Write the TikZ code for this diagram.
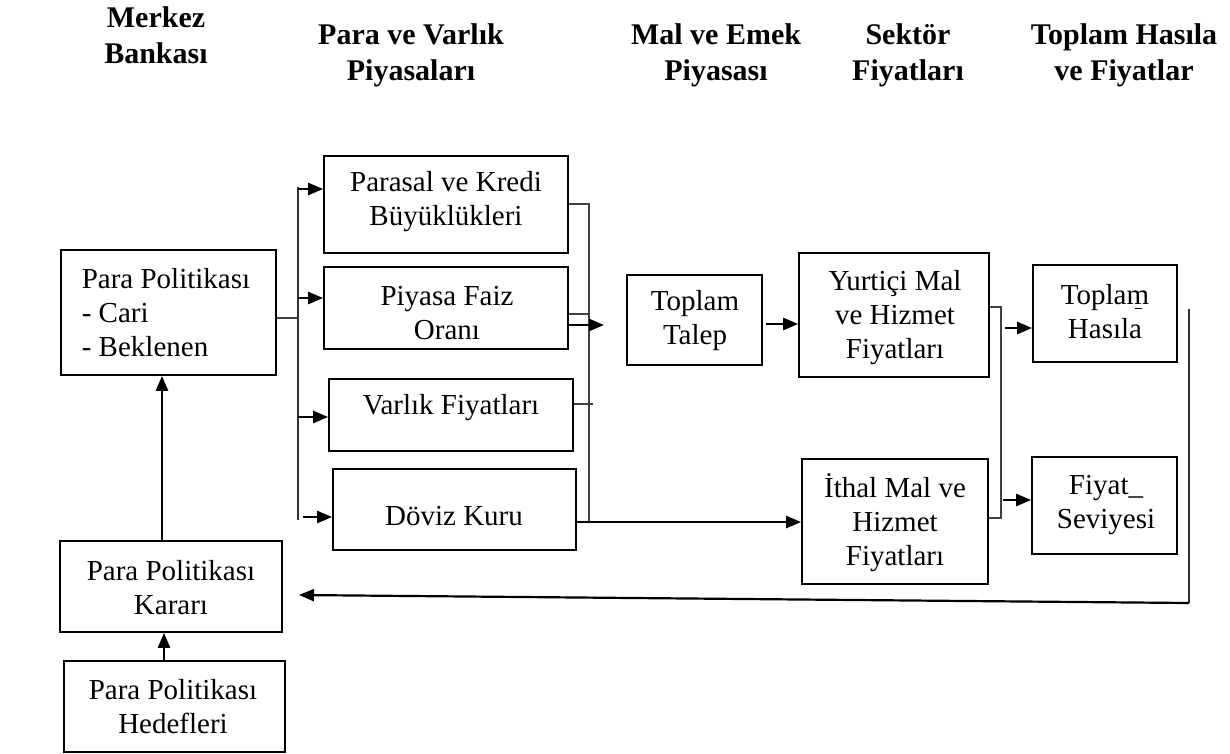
\documentclass[tikz,border=0pt]{standalone}
\usepackage{fontspec}
\setmainfont{Liberation Serif}
\usetikzlibrary{arrows.meta}
\begin{document}
\begin{tikzpicture}[x=1pt,y=-1pt,
  box/.style={draw, line width=1.7pt, inner sep=0pt},
  txt/.style={inner sep=0pt, align=center, font=\fontsize{29}{34}\selectfont},
  hdr/.style={inner sep=0pt, align=center, font=\bfseries\fontsize{30}{36}\selectfont},
  arr/.style={line width=2.5pt, -{Triangle[length=15pt,width=12pt]}},
  thinline/.style={line width=1.1pt, draw=black!75},
]
\useasboundingbox (0,0) rectangle (1230,754);

% headers
\node[hdr] (h1) at (156,35.5) {Merkez\\Bankası};
\node[hdr] (h2) at (411,55) {Para ve Varlık\\Piyasaları};
\node[hdr] (h3) at (716,55) {Mal ve Emek\\Piyasası};
\node[hdr] (h4) at (908,55) {Sektör\\Fiyatları};
\node[hdr] (h5) at (1124,55) {Toplam Hasıla\\ve Fiyatlar};

% boxes
\node[box, minimum width=215pt, minimum height=125pt] (ppol) at (168.5,312.5) {};
\node[box, minimum width=222pt, minimum height=91pt] (karar) at (171,586.5) {};
\node[box, minimum width=221pt, minimum height=91pt] (hedef) at (174.5,706.5) {};
\node[box, minimum width=244pt, minimum height=97pt] (parasal) at (446,204.5) {};
\node[box, minimum width=244pt, minimum height=82pt] (faiz) at (446,308) {};
\node[box, minimum width=244pt, minimum height=72pt] (varlik) at (451,415) {};
\node[box, minimum width=243pt, minimum height=81pt] (doviz) at (454.5,509.5) {};
\node[box, minimum width=135pt, minimum height=90pt] (ttalep) at (694.5,320) {};
\node[box, minimum width=190pt, minimum height=124pt] (yurt) at (894,315) {};
\node[box, minimum width=186pt, minimum height=125pt] (ithal) at (895,521.5) {};
\node[box, minimum width=144pt, minimum height=97pt] (thasila) at (1105,313.5) {};
\node[box, minimum width=145pt, minimum height=97pt] (fiyat) at (1104.5,505.5) {};

% texts
\node[txt, align=left] (ppolT) at (166,313) {Para Politikası\\- Cari\\- Beklenen};
\node[txt] (kararT) at (171,588) {Para Politikası\\Kararı};
\node[txt] (hedefT) at (173,707) {Para Politikası\\Hedefleri};
\node[txt] (parasalT) at (446,202) {Parasal ve Kredi\\Büyüklükleri};
\node[txt] (faizT) at (447,313) {Piyasa Faiz\\Oranı};
\node[txt] (varlikT) at (451,408) {Varlık Fiyatları};
\node[txt] (dovizT) at (454,516) {Döviz Kuru};
\node[txt] (ttalepT) at (695,321) {Toplam\\Talep};
\node[txt] (yurtT) at (895,318) {Yurtiçi Mal\\ve Hizmet\\Fiyatları};
\node[txt] (ithalT) at (895,523) {İthal Mal ve\\Hizmet\\Fiyatları};
\node[txt] (thasilaT) at (1105,312) {Toplam\\Hasıla};
\node[txt] (fiyatT) at (1106,505) {Fiyat\_\\Seviyesi};
\draw[line width=1pt] (1135,308) -- (1142,308);

% left trunk
\coordinate (tk) at (298,318);
\coordinate (ttop) at (298,187);
\coordinate (tbot) at (298,520);
\draw[thinline] (tk -| ppol.east) -- (tk);
\draw[line width=1.3pt, draw=black!80] (ttop) -- (tbot);
\coordinate (a1) at (298,189);
\coordinate (a2) at (298,298);
\coordinate (a3) at (298,417);
\coordinate (a4) at (303,517);
\draw[arr] (a1) -- (a1 -| parasal.west);
\draw[arr] (a2) -- (a2 -| faiz.west);
\draw[arr] (a3) -- (a3 -| varlik.west);
\draw[arr] (a4) -- (a4 -| doviz.west);

% right collector
\coordinate (r1) at (589,204);
\coordinate (r1b) at (589,522);
\draw[thinline] (r1 -| parasal.east) -- (r1) -- (r1b);
\coordinate (r2) at (589,314);
\draw[thinline] (r2 -| faiz.east) -- (r2);
\coordinate (r3) at (593,404);
\draw[thinline] (r3 -| varlik.east) -- (r3);
\coordinate (r4) at (604,325);
\draw[arr] (r4 -| faiz.east) -- (r4);
\coordinate (d1) at (0,522);
\draw[arr] (d1 -| doviz.east) -- (d1 -| ithal.west);

% talep -> yurtici
\coordinate (t1) at (766,324);
\draw[arr] (t1) -- (t1 -| yurt.west);

% bracket
\coordinate (b1) at (1001,307);
\coordinate (b2) at (1001,518);
\draw[thinline] (b1 -| yurt.east) -- (b1) -- (b2) -- (b2 -| ithal.east);
\coordinate (e1) at (1005,328);
\draw[arr] (e1) -- (e1 -| thasila.west);
\coordinate (e2) at (1003,500);
\draw[arr] (e2) -- (e2 -| fiyat.west);

% feedback
\coordinate (f1) at (1189,309);
\coordinate (f2) at (1189,603);
\coordinate (f3) at (299,595);
\draw[line width=1.4pt, draw=black!80] (f1) -- (f2);
\draw[arr, line width=2.2pt] (f2) -- (f3);

% vertical arrows
\coordinate (v1) at (162,0);
\draw[arr] (v1 |- karar.north) -- (v1 |- ppol.south);
\coordinate (v2) at (164,0);
\draw[arr] (v2 |- hedef.north) -- (v2 |- karar.south);
\end{tikzpicture}
\end{document}
